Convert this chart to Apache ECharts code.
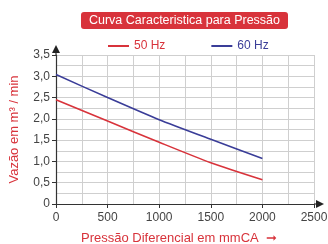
<!DOCTYPE html>
<html>
<head>
<meta charset="utf-8">
<script src="https://cdn.jsdelivr.net/npm/echarts@6/dist/echarts.min.js"></script>
<style>
  html, body { margin: 0; padding: 0; background: #fff; }
  #chart { width: 328px; height: 244px; }
</style>
</head>
<body>
<div id="chart"></div>
<script>
// pressão diferencial (mmCA) e vazão (m³/min)
const pressao = [0, 500, 1000, 1500, 2000];
const vazao50 = [2.45, 1.95, 1.45, 0.97, 0.57];
const vazao60 = [3.04, 2.5, 1.98, 1.52, 1.07];
const xTicks = [0, 500, 1000, 1500, 2000, 2500];
const yTicks = [0, 0.5, 1, 1.5, 2, 2.5, 3, 3.5];

const red = "#d8333b";
const blue = "#3a3d98";
const font = "Liberation Sans, Arial, sans-serif";

const chart = echarts.init(document.getElementById("chart"));

const gridLine = { show: true, lineStyle: { color: "#cfcfcf", width: 1 } };

chart.setOption({
  animation: false,
  textStyle: { fontFamily: font },
  legend: {
    top: 35,
    left: 103,
    itemWidth: 21,
    itemHeight: 2,
    itemGap: 46,
    icon: "rect",
    textStyle: { fontSize: 12, fontFamily: font },
    data: [
      { name: "50 Hz", textStyle: { color: red } },
      { name: "60 Hz", textStyle: { color: blue } }
    ]
  },
  grid: { left: 56, right: 14, top: 55, bottom: 40, containLabel: false, outerBoundsMode: "none" },
  xAxis: {
    type: "value",
    min: xTicks[0],
    max: xTicks[xTicks.length - 1],
    interval: 500,
    name: "Pressão Diferencial em mmCA  ➞",
    nameLocation: "middle",
    nameGap: 28,
    nameTextStyle: { color: red, fontSize: 13, padding: [0, 12, 0, 0] },
    axisLine: { lineStyle: { color: "#333", width: 1.2 } },
    axisTick: { show: true, length: 4, lineStyle: { color: "#333" } },
    axisLabel: { color: "#444", fontSize: 12, margin: 8, formatter: v => String(v) },
    splitLine: gridLine,
    minorTick: { show: true, splitNumber: 2, length: 0 },
    minorSplitLine: gridLine
  },
  yAxis: {
    type: "value",
    min: yTicks[0],
    max: yTicks[yTicks.length - 1],
    interval: 0.5,
    name: "Vazão em m³ / min",
    nameLocation: "middle",
    nameGap: 35,
    nameTextStyle: { color: red, fontSize: 13 },
    axisLine: { show: true, lineStyle: { color: "#333", width: 1.2 } },
    axisTick: { show: true, length: 4, lineStyle: { color: "#333" } },
    axisLabel: {
      color: "#444",
      fontSize: 12,
      margin: 6,
      formatter: v => (v === 0 ? "0" : v.toFixed(1).replace(".", ","))
    },
    splitLine: gridLine,
    minorTick: { show: true, splitNumber: 2, length: 0 },
    minorSplitLine: gridLine
  },
  series: [
    {
      name: "50 Hz",
      type: "line",
      smooth: 0.25,
      showSymbol: false,
      color: red,
      lineStyle: { width: 1.6 },
      data: pressao.map((p, i) => [p, vazao50[i]])
    },
    {
      name: "60 Hz",
      type: "line",
      smooth: 0.2,
      showSymbol: false,
      color: blue,
      lineStyle: { width: 1.6 },
      data: pressao.map((p, i) => [p, vazao60[i]])
    }
  ]
});

// título e setas dos eixos
const o = chart.convertToPixel({ gridIndex: 0 }, [0, 0]);
const xEnd = chart.convertToPixel({ gridIndex: 0 }, [2500, 0]);
const yEnd = chart.convertToPixel({ gridIndex: 0 }, [0, 3.5]);

chart.setOption({
  graphic: [
    {
      type: "rect",
      shape: { x: 81, y: 12, width: 207, height: 17, r: 3 },
      style: { fill: red }
    },
    {
      type: "text",
      x: 184.5,
      y: 20.5,
      style: {
        text: "Curva Caracteristica para Pressão",
        fill: "#fff",
        font: "12.5px " + font,
        align: "center",
        verticalAlign: "middle"
      }
    },
    {
      type: "line",
      shape: { x1: xEnd[0], y1: o[1], x2: xEnd[0] + 4, y2: o[1] },
      style: { stroke: "#333", lineWidth: 1.2 }
    },
    {
      type: "polygon",
      shape: { points: [[xEnd[0] + 2, o[1] - 4], [xEnd[0] + 10, o[1]], [xEnd[0] + 2, o[1] + 4]] },
      style: { fill: "#222" }
    },
    {
      type: "line",
      shape: { x1: o[0], y1: yEnd[1], x2: o[0], y2: yEnd[1] - 4 },
      style: { stroke: "#333", lineWidth: 1.2 }
    },
    {
      type: "polygon",
      shape: { points: [[o[0] - 4, yEnd[1] - 2], [o[0], yEnd[1] - 10], [o[0] + 4, yEnd[1] - 2]] },
      style: { fill: "#222" }
    }
  ]
});
</script>
</body>
</html>
